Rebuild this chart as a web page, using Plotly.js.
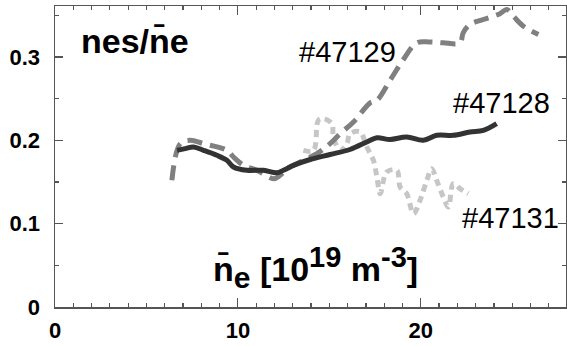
<!DOCTYPE html>
<html>
<head>
<meta charset="utf-8">
<script src="https://cdn.plot.ly/plotly-3.0.1.min.js"></script>
<style>html,body{margin:0;padding:0;background:#fff;}#chart{width:567px;height:346px;}</style>
</head>
<body>
<div id="chart"></div>
<script>
// #47128 (dark solid)
const x47128 = [6.67,7.12,7.57,8.12,8.85,9.40,9.76,10.49,11.40,12.13,12.49,13.04,13.95,15.04,16.13,17.05,17.60,18.32,19.23,20.14,20.87,21.78,22.69,23.42,24.15];
const y47128 = [0.188,0.190,0.192,0.188,0.182,0.176,0.168,0.164,0.164,0.161,0.164,0.170,0.177,0.183,0.189,0.198,0.203,0.201,0.204,0.200,0.206,0.206,0.210,0.212,0.220];
// #47129 (medium gray dashed)
const x47129 = [6.39,6.85,7.39,8.12,9.40,9.76,10.31,11.04,11.95,12.31,12.68,13.40,14.32,15.04,15.59,16.32,17.23,17.60,18.32,19.05,19.78,20.51,21.23,22.14,22.32,22.69,23.42,24.33,24.70,25.06,25.61,26.43];
const y47129 = [0.152,0.196,0.200,0.196,0.188,0.180,0.170,0.164,0.154,0.158,0.166,0.174,0.184,0.196,0.208,0.222,0.245,0.248,0.272,0.297,0.317,0.318,0.317,0.317,0.329,0.339,0.345,0.352,0.357,0.349,0.337,0.327];
// #47131 (light gray dotted)
const x47131 = [13.58,14.13,14.40,14.68,15.14,15.22,15.59,15.96,16.13,16.68,17.05,17.41,17.60,17.78,18.14,18.69,18.87,19.23,19.60,19.96,20.33,20.60,20.87,21.23,21.51,21.78,22.14,22.60];
const y47131 = [0.188,0.188,0.224,0.226,0.220,0.204,0.188,0.196,0.208,0.210,0.192,0.176,0.156,0.136,0.162,0.164,0.144,0.136,0.112,0.128,0.152,0.166,0.152,0.132,0.120,0.148,0.142,0.136];

const xTickVals = [0,5,10,15,20,25];
const xTickText = ["0","","10","","20",""];
const yTickVals = [0,0.1,0.2,0.3];
const yTickText = ["0","0.1","0.2","0.3"];
const labels = ["#47129","#47128","#47131"];

const xMinor = [];
for (let v = 0; v <= 28; v += 1) xMinor.push(v);
const yMinor = [];
for (let v = 0; v <= 0.36; v += 0.05) yMinor.push(+v.toFixed(2));

const traces = [
  {x: x47131, y: y47131, mode: 'lines', line: {color: '#c6c6c6', width: 5, dash: '7px,5px', shape: 'spline'}, hoverinfo: 'skip'},
  {x: x47129, y: y47129, mode: 'lines', line: {color: '#808080', width: 5, dash: '15px,8px', shape: 'spline'}, hoverinfo: 'skip'},
  {x: x47128, y: y47128, mode: 'lines', line: {color: '#333333', width: 5, shape: 'spline'}, hoverinfo: 'skip'}
];

const axisCommon = {
  showgrid: false, zeroline: false, showline: true, linecolor: '#555', linewidth: 1.5,
  mirror: 'ticks', ticks: 'inside', tickcolor: '#555', tickwidth: 1.2,
  tickfont: {family: 'Liberation Sans, Arial, sans-serif', size: 22, color: '#000', weight: 'bold'}
};

const layout = {
  width: 567, height: 346,
  margin: {l: 55, r: 1, t: 6, b: 39},
  paper_bgcolor: '#fff', plot_bgcolor: '#fff',
  showlegend: false,
  xaxis: Object.assign({}, axisCommon, {
    range: [0, 27.94], tickmode: 'array', tickvals: xTickVals, ticktext: xTickText,
    ticklen: 9, ticklabelstandoff: 3,
    minor: {tickmode: 'array', tickvals: xMinor, ticklen: 4, ticks: 'inside', tickcolor: '#555', tickwidth: 1.2}
  }),
  yaxis: Object.assign({}, axisCommon, {
    range: [0, 0.3612], tickmode: 'array', tickvals: yTickVals, ticktext: yTickText,
    ticklen: 8, ticklabelstandoff: 9,
    minor: {tickmode: 'array', tickvals: yMinor, ticklen: 4, ticks: 'inside', tickcolor: '#555', tickwidth: 1.2}
  }),
  annotations: [
    {xref: 'paper', yref: 'paper', x: (79-55)/511, y: (306.7-62)/300.7, xanchor: 'left', yanchor: 'bottom',
     text: 'nes/n\u0304e', showarrow: false,
     font: {family: 'Liberation Sans, Arial, sans-serif', size: 34, color: '#000', weight: 'bold'}},
    {xref: 'paper', yref: 'paper', x: (315-55)/511, y: (306.7-267)/300.7, xanchor: 'center', yanchor: 'middle',
     text: 'n\u0304<sub><span style="font-size:30px">e</span></sub> [10<sup><span style="font-size:29px">19</span></sup> m<sup><span style="font-size:29px">-3</span></sup>]', showarrow: false,
     font: {family: 'Liberation Sans, Arial, sans-serif', size: 34, color: '#000', weight: 'bold'}},
    {xref: 'paper', yref: 'paper', x: (347-55)/511, y: (306.7-52)/300.7, xanchor: 'center', yanchor: 'middle',
     text: labels[0], showarrow: false, font: {family: 'Liberation Sans, Arial, sans-serif', size: 29, color: '#000'}},
    {xref: 'paper', yref: 'paper', x: (501-55)/511, y: (306.7-103)/300.7, xanchor: 'center', yanchor: 'middle',
     text: labels[1], showarrow: false, font: {family: 'Liberation Sans, Arial, sans-serif', size: 29, color: '#000'}},
    {xref: 'paper', yref: 'paper', x: (510-55)/511, y: (306.7-218)/300.7, xanchor: 'center', yanchor: 'middle',
     text: labels[2], showarrow: false, font: {family: 'Liberation Sans, Arial, sans-serif', size: 29, color: '#000'}}
  ]
};

Plotly.newPlot('chart', traces, layout, {staticPlot: true, displayModeBar: false});
</script>
</body>
</html>
